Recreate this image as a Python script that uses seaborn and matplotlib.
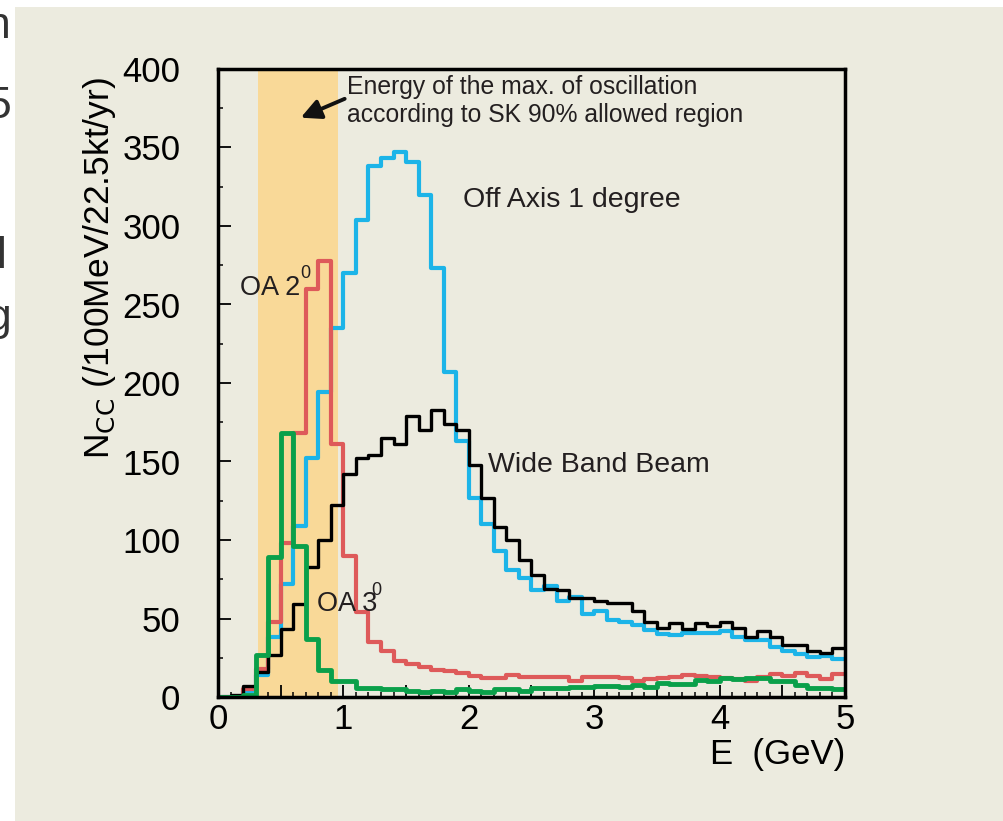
import numpy as np
import pandas as pd
import matplotlib
matplotlib.use("Agg")
import matplotlib.pyplot as plt
from matplotlib.ticker import MultipleLocator, FuncFormatter
from matplotlib.patches import Rectangle
import seaborn as sns

# ---- data (events per 100 MeV bin, E from 0 to 5 GeV) ----
bin_edges = [round(0.1 * i, 1) for i in range(51)]
off_axis_1 = [0, 0, 4, 14, 38, 72, 109, 152, 194, 235,
              270, 304, 338, 343, 347, 341, 320, 273, 207, 163,
              127, 110, 93, 81, 76, 68, 71, 61, 64, 53,
              55, 49, 48, 46, 42.5, 40, 39.5, 40.5, 41, 40.5,
              42, 38, 36, 36, 32, 29, 27.5, 25.5, 26, 24.5]
off_axis_2 = [0, 0, 5, 18, 48, 98, 168, 260, 278, 161,
              90, 54, 35, 29, 23, 21, 19, 17, 16.5, 15,
              13.5, 12, 12, 14, 12.5, 13, 12.5, 13, 10.5, 12.5,
              13, 12.5, 12, 10.5, 11.5, 12, 13, 14, 13.5, 12.5,
              12, 11.5, 10, 12.5, 14.5, 13.5, 15, 13.5, 11.5, 14.5]
off_axis_3 = [0, 0, 1, 27, 89, 168, 96, 37, 17, 10.5,
              10, 6, 6, 5, 5, 4, 3, 4, 3, 5,
              4, 3, 5, 5, 4, 6, 6, 6, 6.5, 6.5,
              7, 7, 6.5, 7.5, 6.5, 9, 8, 8.5, 11, 10.5,
              12, 11.5, 12, 12, 10, 10, 7.5, 5.5, 5.5, 5]
wide_band = [0, 1, 7, 16, 27, 43, 59, 83, 100, 122,
             142, 152, 154, 165, 161, 179, 170, 183, 174, 170,
             148, 127, 108, 100, 87, 78, 69, 68, 63, 63,
             61, 60, 60, 55, 48, 44, 47, 43, 47, 45,
             48, 44, 38, 42, 38, 33, 33, 29, 28, 31]
osc_band = [0.32, 0.955]   # energy of max. oscillation (SK 90% region)
x_ticks = [0, 1, 2, 3, 4, 5]
y_ticks = [0, 50, 100, 150, 200, 250, 300, 350, 400]

BG = "#ECEBDF"
TXT = "#231F20"
BLUE = "#1CB4E8"
RED = "#DE5A5A"
GREEN = "#0AA04A"
BAND = "#F9D998"

sns.set_theme(style="ticks")
plt.rcParams["font.family"] = ["Liberation Sans", "DejaVu Sans"]

fig = plt.figure(figsize=(10.04, 8.21), dpi=100)
fig.patch.set_facecolor("white")
fig.patches.append(Rectangle((15 / 1004, 0), 1 - 15 / 1004, 1 - 7 / 821,
                             transform=fig.transFigure, facecolor=BG,
                             edgecolor="none", zorder=-10))

# cut-off slide text on the far left
for ch, xpx, ypx in [("n", -14, 38), ("5", -14, 118), ("l", -3, 268), ("g", -14, 330)]:
    fig.text(xpx / 1004, 1 - ypx / 821, ch, fontsize=32, color="#333333",
             ha="left", va="baseline")

ax = fig.add_axes([218 / 1004, 1 - 697 / 821, (845 - 218) / 1004, (697 - 69) / 821])
ax.set_facecolor(BG)

ax.axvspan(osc_band[0], osc_band[1], color=BAND, lw=0, zorder=0)

edges = np.array(bin_edges)
centers = (edges[:-1] + edges[1:]) / 2
series = [(off_axis_1, BLUE, 3.0), (off_axis_2, RED, 3.0),
          (wide_band, "black", 2.4), (off_axis_3, GREEN, 3.5)]
for vals, col, lw in series:
    df = pd.DataFrame({"E": centers, "N": vals})
    sns.histplot(data=df, x="E", weights="N", bins=list(bin_edges), element="step",
                 fill=False, color=col, linewidth=lw, ax=ax, zorder=3)

ax.set_xlim(0, 5)
ax.set_ylim(0, 400)
ax.set_xlabel("")
ax.set_ylabel("")

ax.xaxis.set_major_locator(MultipleLocator(0.5))
ax.xaxis.set_minor_locator(MultipleLocator(0.1))
ax.xaxis.set_major_formatter(FuncFormatter(
    lambda v, p: f"{int(round(v))}" if abs(v - round(v)) < 1e-6 and round(v) in x_ticks else ""))
ax.set_yticks(y_ticks)
ax.yaxis.set_minor_locator(MultipleLocator(25))

ax.tick_params(axis="both", which="both", direction="in", top=False, right=False,
               colors="black", labelcolor="black")
ax.tick_params(axis="x", which="major", length=8.5, width=1.3, labelsize=25, pad=4)
ax.tick_params(axis="x", which="minor", length=3.5, width=1.1)
ax.tick_params(axis="y", which="major", length=9.5, width=1.3, labelsize=25, pad=27)
ax.tick_params(axis="y", which="minor", length=3.8, width=1.1)
for s in ax.spines.values():
    s.set_visible(True)
    s.set_linewidth(2.5)
    s.set_color("black")
    s.set_zorder(5)

ax.text(1.0, -0.065, "E  (GeV)", transform=ax.transAxes, ha="right", va="top",
        fontsize=25, color="black")

fig.text(100 / 1004, 1 - 268 / 821, r"N$_{\mathrm{CC}}$ (/100MeV/22.5kt/yr)",
         rotation=90, ha="center", va="center", fontsize=25.5, color="black")

# annotations
ax.text(1.029, 384, "Energy of the max. of oscillation", fontsize=17.8, color=TXT,
        ha="left", va="baseline", zorder=6)
ax.text(1.029, 366, "according to SK 90% allowed region", fontsize=17.8, color=TXT,
        ha="left", va="baseline", zorder=6)
ax.annotate("", xy=(0.66, 369), xytext=(1.01, 381),
            arrowprops=dict(arrowstyle="-|>,head_length=1.0,head_width=0.5",
                            color="#111111", lw=2.8, shrinkA=0, shrinkB=0), zorder=6)
ax.text(1.954, 312, "Off Axis 1 degree", fontsize=20.5, color=TXT, ha="left", va="baseline", zorder=6)
ax.text(2.153, 143.5, "Wide Band Beam", fontsize=20.5, color=TXT, ha="left", va="baseline", zorder=6)
ax.text(0.175, 256, "OA 2", fontsize=19.5, color=TXT, ha="left", va="baseline", zorder=6)
ax.text(0.655, 267, "0", fontsize=13, color=TXT, ha="left", va="baseline", zorder=6)
ax.text(0.79, 55, "OA 3", fontsize=19.5, color=TXT, ha="left", va="baseline", zorder=6)
ax.text(1.22, 65, "0", fontsize=13, color=TXT, ha="left", va="baseline", zorder=6)

fig.savefig("out.png", dpi=100, facecolor=fig.get_facecolor())
